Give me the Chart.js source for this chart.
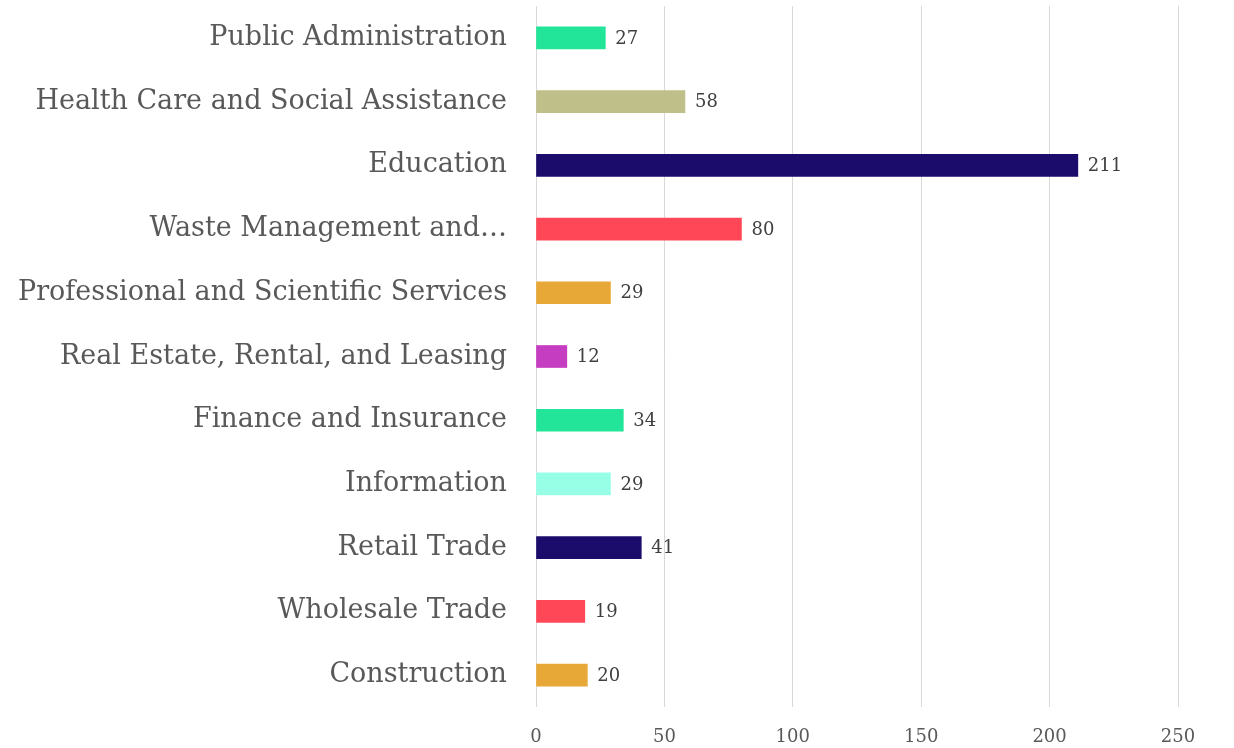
<!DOCTYPE html>
<html>
<head>
<meta charset="utf-8">
<script src="https://cdn.jsdelivr.net/npm/chart.js@4"></script>
<style>
html,body{margin:0;padding:0;background:#fff;}
#wrap{width:1234px;height:748px;position:relative;}
</style>
</head>
<body>
<div id="wrap"><canvas id="c" width="1234" height="748"></canvas></div>
<script>
const categories = [
  "Public Administration",
  "Health Care and Social Assistance",
  "Education",
  "Waste Management and\u2026",
  "Professional and Scientific Services",
  "Real Estate, Rental, and Leasing",
  "Finance and Insurance",
  "Information",
  "Retail Trade",
  "Wholesale Trade",
  "Construction"
];
const values = [27, 58, 211, 80, 29, 12, 34, 29, 41, 19, 20];
const barColors = ["#22E59A","#BFBF8A","#1B0C6B","#FF4757","#E8A838","#C53DC0","#22E59A","#96FFE6","#1B0C6B","#FF4757","#E8A838"];
const xTicks = [0, 50, 100, 150, 200, 250];

const valueLabels = {
  id: 'valueLabels',
  afterDatasetsDraw(chart) {
    const ctx = chart.ctx;
    const meta = chart.getDatasetMeta(0);
    ctx.save();
    ctx.font = '18px "DejaVu Serif"';
    ctx.fillStyle = '#404040';
    ctx.textAlign = 'left';
    ctx.textBaseline = 'middle';
    meta.data.forEach((el, i) => {
      ctx.fillText(String(values[i]), el.x + 10, el.y + 1);
    });
    ctx.restore();
  }
};

new Chart(document.getElementById('c'), {
  type: 'bar',
  data: {
    labels: categories,
    datasets: [{
      data: values,
      backgroundColor: barColors,
      borderWidth: 0,
      barThickness: 22
    }]
  },
  options: {
    indexAxis: 'y',
    responsive: false,
    animation: false,
    layout: { padding: { top: 6, right: 56, left: 0, bottom: 0 } },
    plugins: { legend: { display: false }, tooltip: { enabled: false } },
    scales: {
      x: {
        min: 0, max: 250,
        afterBuildTicks: s => { s.ticks = xTicks.map(v => ({ value: v })); },
        afterFit: s => { s.height = 41; s.paddingLeft = 0; s.paddingRight = 0; },
        grid: { color: '#d9d9d9', drawTicks: false, lineWidth: 1 },
        border: { display: false },
        ticks: { padding: 20, color: '#595959', font: { family: 'DejaVu Serif', size: 18 } }
      },
      y: {
        afterFit: s => { s.width = 536; s.paddingTop = 0; s.paddingBottom = 0; },
        grid: { display: false, drawTicks: false },
        border: { display: false },
        ticks: { padding: 29, color: '#595959', font: { family: 'DejaVu Serif', size: 27 }, autoSkip: false }
      }
    }
  },
  plugins: [valueLabels]
});
</script>
</body>
</html>
